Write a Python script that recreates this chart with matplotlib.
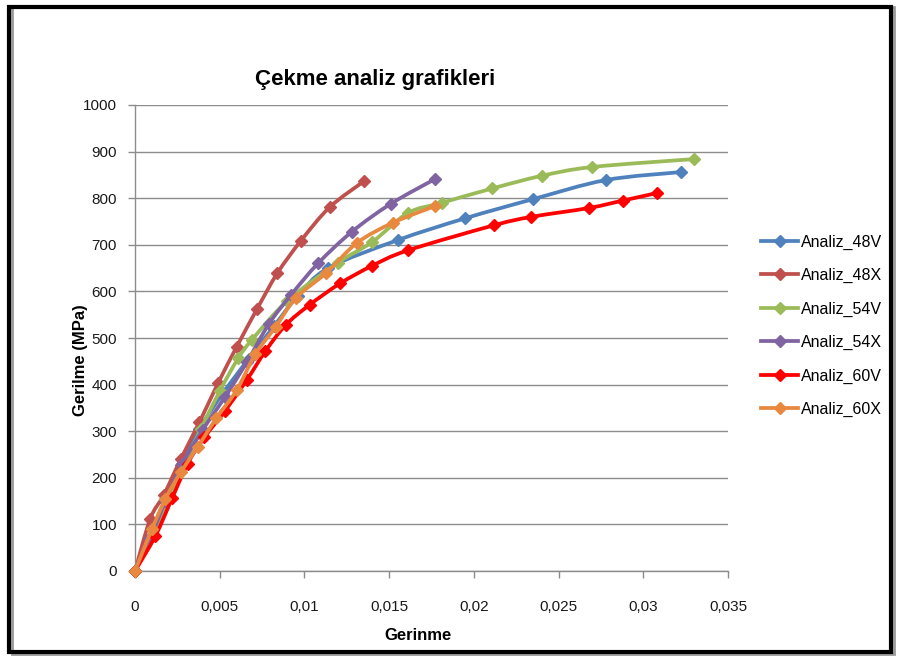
import matplotlib
matplotlib.use("Agg")
import matplotlib.pyplot as plt
import numpy as np
from matplotlib.patches import Rectangle, PathPatch
from matplotlib.path import Path
from matplotlib.lines import Line2D
from matplotlib.ticker import FixedLocator, FuncFormatter

plt.rcParams['font.family'] = ['Liberation Sans Narrow', 'Liberation Sans', 'DejaVu Sans']

# Strain (Gerinme) and stress (Gerilme, MPa) for each tensile analysis
strain_48V = [0, 0.0010, 0.0018, 0.0027, 0.0038, 0.0052, 0.0067, 0.0082, 0.0096, 0.0114,
              0.0155, 0.0195, 0.0235, 0.0278, 0.0322]
stress_48V = [0, 75, 150, 228, 305, 382, 455, 525, 590, 650, 710, 757, 798, 839, 856]

strain_48X = [0, 0.0009, 0.0017, 0.0027, 0.0038, 0.0049, 0.0060, 0.0072, 0.0084, 0.0098,
              0.0115, 0.0135]
stress_48X = [0, 112, 163, 240, 319, 403, 481, 562, 639, 709, 781, 836]

strain_54V = [0, 0.0011, 0.0020, 0.0029, 0.0039, 0.0050, 0.0061, 0.0069, 0.0090, 0.0120,
              0.0140, 0.0161, 0.0181, 0.0211, 0.0240, 0.0270, 0.0330]
stress_54V = [0, 77, 158, 228, 305, 386, 457, 496, 580, 662, 706, 768, 790, 821, 848, 867, 884]

strain_54X = [0, 0.0009, 0.0018, 0.0028, 0.0040, 0.0053, 0.0066, 0.0079, 0.0092, 0.0108,
              0.0128, 0.0151, 0.0177]
stress_54X = [0, 70, 150, 230, 303, 373, 448, 530, 592, 660, 728, 788, 841]

strain_60V = [0, 0.0012, 0.0022, 0.0031, 0.0041, 0.0053, 0.0066, 0.0077, 0.0089, 0.0103,
              0.0121, 0.0140, 0.0161, 0.0212, 0.0234, 0.0268, 0.0288, 0.0308]
stress_60V = [0, 75, 157, 230, 287, 343, 410, 472, 528, 571, 617, 655, 688, 742, 760, 779, 795, 811]

strain_60X = [0, 0.0010, 0.0018, 0.0027, 0.0037, 0.0048, 0.0060, 0.0071, 0.0083, 0.0095,
              0.0113, 0.0131, 0.0152, 0.0177]
stress_60X = [0, 90, 155, 212, 266, 328, 388, 465, 524, 586, 640, 704, 747, 783]

series = [
    ("Analiz_48V", strain_48V, stress_48V, "#4F81BD"),
    ("Analiz_48X", strain_48X, stress_48X, "#C0504D"),
    ("Analiz_54V", strain_54V, stress_54V, "#9BBB59"),
    ("Analiz_54X", strain_54X, stress_54X, "#8064A2"),
    ("Analiz_60V", strain_60V, stress_60V, "#FF0000"),
    ("Analiz_60X", strain_60X, stress_60X, "#E8893F"),
]

x_ticks = [0, 0.005, 0.01, 0.015, 0.02, 0.025, 0.03, 0.035]
y_ticks = list(range(0, 1001, 100))

LW = 2.7
MS = 6.5


def smooth_path(xs, ys):
    """Cubic Bezier path through the points (spreadsheet-style smoothed line)."""
    p = np.column_stack([xs, ys]).astype(float)
    verts = [p[0]]
    codes = [Path.MOVETO]
    n = len(p)
    for i in range(n - 1):
        p0 = p[i - 1] if i > 0 else p[i]
        p1, p2 = p[i], p[i + 1]
        p3 = p[i + 2] if i + 2 < n else p[i + 1]
        c1 = p1 + (p2 - p0) / 6.0
        c2 = p2 - (p3 - p1) / 6.0
        verts += [c1, c2, p2]
        codes += [Path.CURVE4] * 3
    return Path(verts, codes)


fig = plt.figure(figsize=(8.99, 6.59), dpi=100)
ax = fig.add_axes([135 / 899, 88 / 659, 593 / 899, 466 / 659])

handles = []
for k, (name, xs, ys, color) in enumerate(series):
    patch = PathPatch(smooth_path(xs, ys), facecolor="none", edgecolor=color, lw=LW,
                      joinstyle="round", capstyle="round", zorder=2 + k * 0.1, clip_on=False)
    ax.add_patch(patch)
    ax.plot(xs, ys, linestyle="none", marker="D", markersize=MS, color=color,
            markeredgecolor=color, zorder=2.05 + k * 0.1, clip_on=False)
    handles.append(Line2D([], [], color=color, lw=LW, marker="D", markersize=MS,
                          markeredgecolor=color, label=name))

ax.set_xlim(0, 0.035)
ax.set_ylim(0, 1000)
ax.xaxis.set_major_locator(FixedLocator(x_ticks))
ax.yaxis.set_major_locator(FixedLocator(y_ticks))
ax.xaxis.set_major_formatter(FuncFormatter(lambda v, p: ("%g" % round(v, 4)).replace(".", ",")))
ax.yaxis.set_major_formatter(FuncFormatter(lambda v, p: "%d" % v))
ax.grid(axis="y", color="#8C8C8C", lw=1.0)
ax.set_axisbelow(True)
for side in ("top", "right"):
    ax.spines[side].set_visible(False)
for side in ("left", "bottom"):
    ax.spines[side].set_color("#8C8C8C")
    ax.spines[side].set_linewidth(1.0)
ax.tick_params(axis="both", colors="#8C8C8C", labelcolor="#1A1A1A", labelsize=11,
               length=5, width=1.0, direction="out")
ax.tick_params(axis="x", pad=16)
ax.tick_params(axis="y", pad=8)

fig.text(375 / 899, 1 - 80 / 659, "Çekme analiz grafikleri", ha="center", va="center",
         fontsize=16, fontweight="bold", color="#000000")
fig.text(418 / 899, 1 - 635 / 659, "Gerinme", ha="center", va="center",
         fontsize=12, fontweight="bold")
fig.text(80 / 899, 1 - 360 / 659, "Gerilme (MPa)", ha="center", va="center",
         rotation=90, fontsize=12, fontweight="bold")

fig.legend(handles=handles, loc="upper left", bbox_to_anchor=(755 / 899, 1 - 228 / 659),
           frameon=False, fontsize=11.5, handlelength=2.3, handletextpad=0.2,
           labelspacing=1.15, borderaxespad=0)

fig.patches.append(Rectangle((12 / 899, 5 / 659), 882 / 899, 647 / 659, transform=fig.transFigure,
                             fill=False, edgecolor="#9A9A9A", lw=2.0, zorder=0))
fig.patches.append(Rectangle((9 / 899, 7 / 659), 882 / 899, 645 / 659, transform=fig.transFigure,
                             fill=False, edgecolor="#000000", lw=3.0, zorder=1))

fig.savefig("out.png", dpi=100)
